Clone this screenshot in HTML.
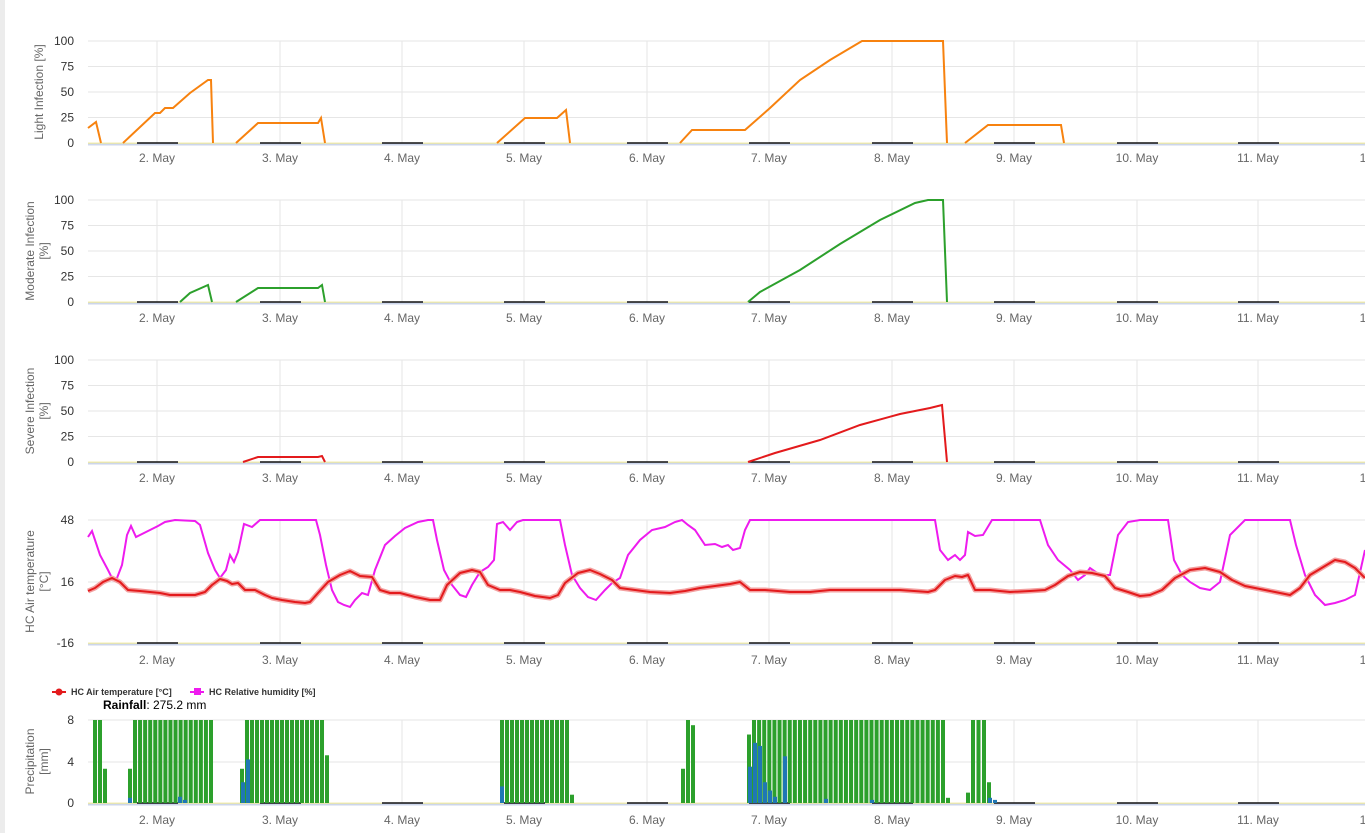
<!DOCTYPE html><html><head><meta charset="utf-8"><style>
html,body{margin:0;padding:0;background:#fff;width:1365px;height:833px;overflow:hidden;font-family:"Liberation Sans",Arial,sans-serif}
</style></head><body>
<svg id="s" width="1365" height="833" xmlns="http://www.w3.org/2000/svg" font-family="Liberation Sans, Arial, sans-serif">
<rect x="0" y="0" width="5" height="833" fill="#ececec"/>
<g id="g"></g>
<polyline fill="none" stroke="#f7820f" stroke-width="2" points="88,128 96,122 101,143"/>
<polyline fill="none" stroke="#f7820f" stroke-width="2" points="123,143 155,113 160,113 165,108 173,108 190,93 208,80 211,80 213,143"/>
<polyline fill="none" stroke="#f7820f" stroke-width="2" points="236,143 258,123 318,123 321,118 325,143"/>
<polyline fill="none" stroke="#f7820f" stroke-width="2" points="497,143 525,118 557,118 566,110 570,143"/>
<polyline fill="none" stroke="#f7820f" stroke-width="2" points="680,143 692,130 745,130 770,108 800,80 830,60 862,41 943,41 947,143"/>
<polyline fill="none" stroke="#f7820f" stroke-width="2" points="965,143 988,125 1061,125 1064,143"/>
<polyline fill="none" stroke="#2ca02c" stroke-width="2" points="180,302 190,293 208,285 212,302"/>
<polyline fill="none" stroke="#2ca02c" stroke-width="2" points="236,302 258,288 318,288 322,285 325,302"/>
<polyline fill="none" stroke="#2ca02c" stroke-width="2" points="748,302 760,292 800,270 840,244 880,220 915,203 928,200 943,200 947,302"/>
<polyline fill="none" stroke="#e31a1c" stroke-width="2" points="243,462 258,457 318,457 322,456 325,462"/>
<polyline fill="none" stroke="#e31a1c" stroke-width="2" points="748,462 775,453 820,440 860,425 900,414 930,408 942,405 947,462"/>
<polyline fill="none" stroke="#ee1bee" stroke-width="2" points="88,537 92,531 100,555 108,570 113,580 117,578 122,565 127,535 131,526 136,537 150,530 158,526 165,522 175,520 195,521 200,525 208,553 215,570 220,578 226,570 230,555 234,562 238,552 244,524 252,527 260,520 316,520 320,535 326,565 332,590 338,602 344,605 350,607 355,600 362,593 368,595 375,570 385,545 395,536 405,528 418,522 428,520 433,520 437,540 444,570 452,585 460,595 466,597 472,585 480,572 488,567 494,560 497,524 503,522 510,530 517,522 523,520 560,520 565,545 572,575 580,588 588,597 596,600 605,590 612,583 620,578 628,555 640,540 652,530 665,527 675,522 682,520 688,525 695,530 705,545 715,544 722,547 728,545 733,550 740,548 745,530 750,520 935,520 940,550 948,560 955,555 960,560 965,555 968,532 975,536 983,535 992,520 1040,520 1048,545 1058,560 1070,570 1078,580 1085,575 1090,568 1100,575 1110,575 1118,535 1128,522 1140,520 1168,520 1174,560 1182,575 1190,582 1200,588 1210,590 1220,582 1230,535 1245,520 1290,520 1296,545 1305,575 1315,595 1325,605 1335,603 1345,600 1355,595 1365,550"/>
<polyline fill="none" stroke="#f3a0a0" stroke-width="5" stroke-linejoin="round" id="tb"/>
<polyline fill="none" stroke="#e31a1c" stroke-width="2" stroke-linejoin="round" id="t" points="88,591 95,588 103,582 112,578 120,582 128,590 140,591 150,592 160,593 170,595 180,595 195,595 205,592 212,585 220,579 227,581 232,584 238,583 245,590 255,590 265,595 272,598 282,600 295,602 305,603 310,602 318,593 328,582 340,575 350,571 360,576 372,577 380,590 390,593 400,593 415,597 430,600 440,600 447,585 460,573 472,570 480,572 488,585 500,590 510,590 520,592 535,596 550,598 558,595 565,583 578,573 590,570 600,574 612,580 620,588 635,590 650,592 670,593 685,591 700,588 715,586 730,584 740,582 750,590 765,590 790,592 810,592 830,590 860,590 900,590 928,592 935,590 945,580 955,576 962,577 968,575 975,590 990,590 1010,592 1030,591 1045,590 1055,585 1068,576 1080,572 1092,573 1105,576 1115,588 1128,592 1140,596 1150,595 1162,590 1175,578 1190,570 1205,568 1220,572 1232,580 1245,586 1260,589 1275,592 1290,595 1300,588 1310,575 1325,566 1335,560 1345,562 1355,568 1365,578"/>
<g id="bars"></g>
<g font-size="9" font-weight="bold" fill="#333">
<line x1="52" y1="692" x2="66" y2="692" stroke="#e31a1c" stroke-width="2"/><circle cx="59" cy="692" r="3.5" fill="#e31a1c"/>
<text x="71" y="695">HC Air temperature [°C]</text>
<line x1="190" y1="692" x2="204" y2="692" stroke="#ee1bee" stroke-width="2"/><rect x="194" y="688" width="7" height="7" fill="#ee1bee"/>
<text x="209" y="695">HC Relative humidity [%]</text>
</g>
<text x="103" y="709" font-size="12" fill="#000"><tspan font-weight="bold">Rainfall</tspan>: 275.2 mm</text>
</svg>
<script>
const NS="http://www.w3.org/2000/svg";
const g=document.getElementById('g');
function el(t,a,txt,p){const e=document.createElementNS(NS,t);for(const k in a)e.setAttribute(k,a[k]);if(txt!=null)e.textContent=txt;(p||g).appendChild(e);return e;}
const dayX=[157,280,402,524,647,769,892,1014,1137,1258,1381];
const labels=["2. May","3. May","4. May","5. May","6. May","7. May","8. May","9. May","10. May","11. May","12. May"];
const panels=[
 {top:41,bot:143,ticks:[[100,41],[75,66.5],[50,92],[25,117.5],[0,143]],title:["Light Infection [%]"],ly:158},
 {top:200,bot:302,ticks:[[100,200],[75,225.5],[50,251],[25,276.5],[0,302]],title:["Moderate Infection","[%]"],ly:318},
 {top:360,bot:462,ticks:[[100,360],[75,385.5],[50,411],[25,436.5],[0,462]],title:["Severe Infection","[%]"],ly:478},
 {top:520,bot:643,ticks:[[48,520],[16,582],[-16,643]],title:["HC Air temperature","[°C]"],ly:660},
 {top:720,bot:803,ticks:[[8,720],[4,762],[0,803]],title:["Precipitation","[mm]"],ly:820}
];
panels.forEach(p=>{
 dayX.forEach(x=>{if(x<1365)el('line',{x1:x,y1:p.top,x2:x,y2:p.bot,stroke:'#e6e6e6','stroke-width':1});});
 p.ticks.forEach(t=>{
  el('line',{x1:88,y1:t[1],x2:1365,y2:t[1],stroke:'#e6e6e6','stroke-width':1});
  el('text',{x:74,y:t[1]+4,'font-size':12,fill:'#333','text-anchor':'end'},String(t[0]));
 });
 el('line',{x1:88,y1:p.bot+0.5,x2:1365,y2:p.bot+0.5,stroke:'#fff27a','stroke-width':1.5});
 el('line',{x1:88,y1:p.bot+1.5,x2:1365,y2:p.bot+1.5,stroke:'#ccd6eb','stroke-width':2});
 dayX.forEach((x,i)=>{
  if(x<1365)el('line',{x1:x-20,y1:p.bot,x2:x+21,y2:p.bot,stroke:'#111','stroke-width':1.5});
  el('text',{x:x,y:p.ly+4,'font-size':12,fill:'#666','text-anchor':'middle'},labels[i]);
 });
 const cy=(p.top+p.bot)/2, n=p.title.length;
 const t=el('text',{transform:`translate(${n==1?43:34},${cy}) rotate(-90)`,'font-size':12,fill:'#666','text-anchor':'middle'});
 p.title.forEach((s,i)=>{el('tspan',{x:0,dy:i==0?0:14},s,t);});
});
document.getElementById('tb').setAttribute('points',document.getElementById('t').getAttribute('points'));
const bg=document.getElementById('bars');
const y0=803,sc=(803-720)/8;
function bar(x,v,c){const h=Math.min(v,8)*sc;el('rect',{x:x-2,y:y0-h,width:4,height:h,fill:c||'#2ca02c'},null,bg);}
function run(a,b){const n=Math.round((b-a)/5.11);const st=n>0?(b-a)/n:0;for(let i=0;i<=n;i++)bar(a+i*st,9);}
run(95,100);bar(105,3.3);
bar(130,3.3);run(135,211);
bar(242,3.3);run(247,322);bar(327,4.6);
run(502,567);bar(572,0.8);
bar(683,3.3);bar(688,9);bar(693,7.5);
bar(749,6.6);run(754,943);bar(948,0.5);
bar(968,1);run(973,984);bar(989,2);
[[130,0.5],[243,2],[248,4.2],[180,0.6],[185,0.3],[502,1.6],[750,3.5],[755,5.8],[760,5.5],[765,2],[770,1.2],[775,0.6],[785,4.5],[826,0.4],[872,0.3],[990,0.5],[995,0.3]].forEach(b=>bar(b[0],b[1],'#1f77b4'));
</script>
</body></html>
